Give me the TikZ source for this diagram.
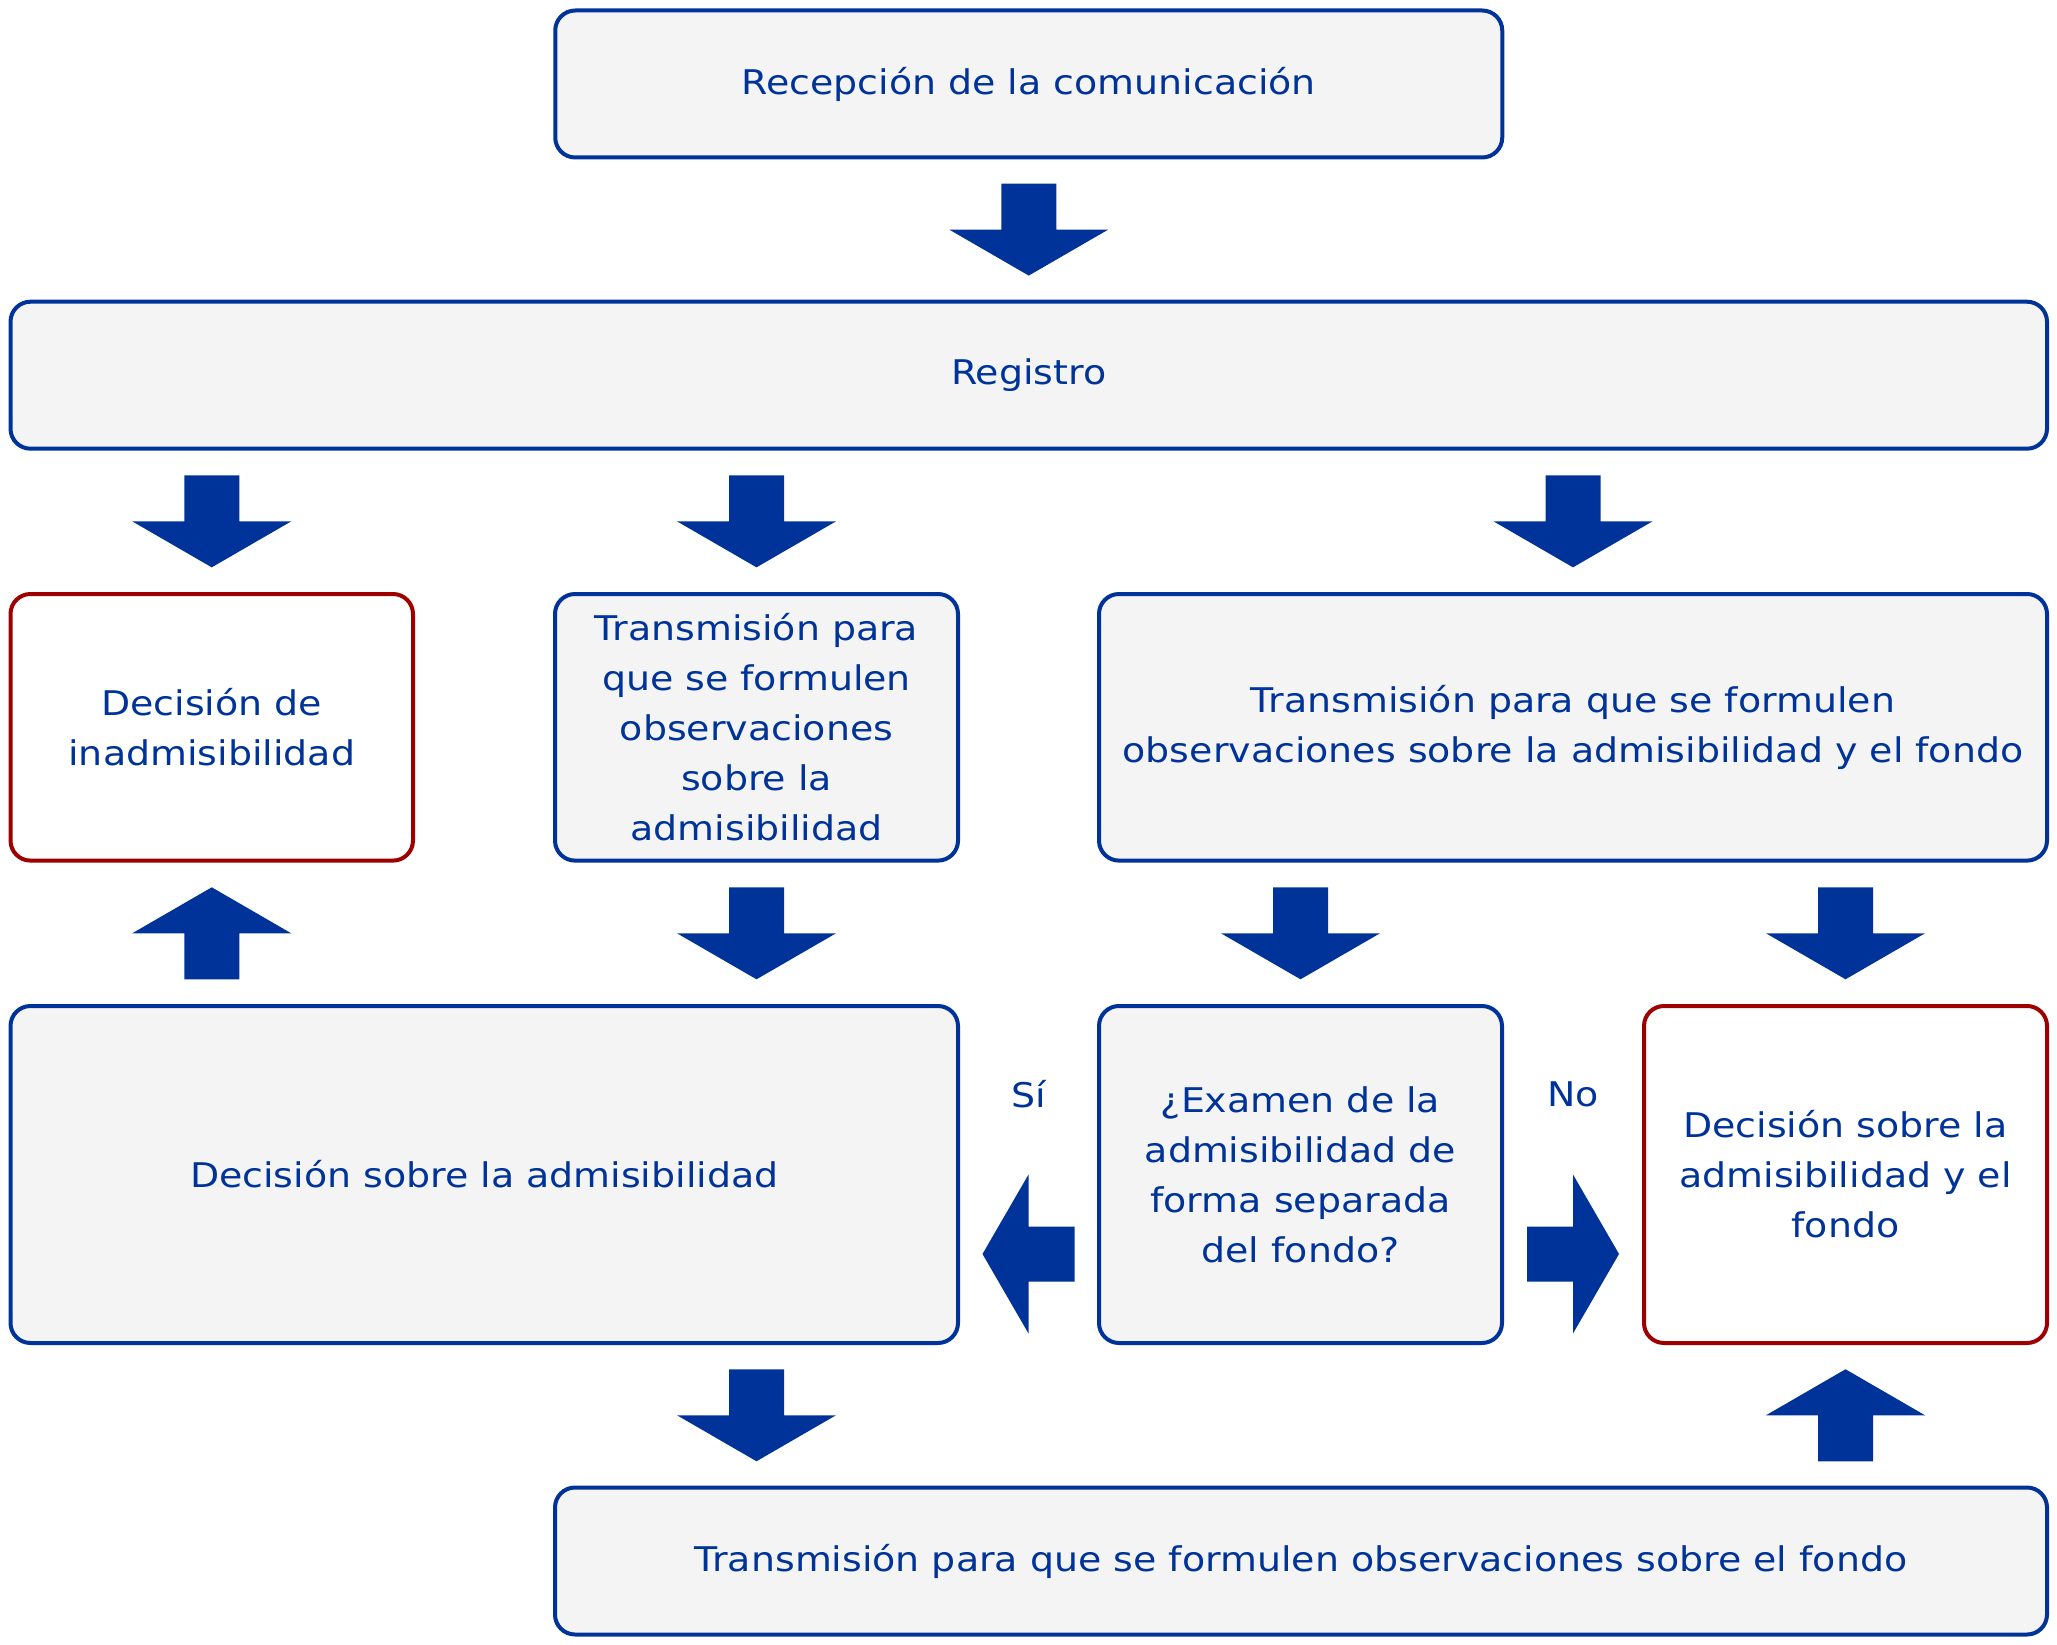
\documentclass[tikz,border=0pt]{standalone}
\usepackage{fontspec}
\setmainfont{DejaVu Sans}[FakeStretch=1.115]
\usetikzlibrary{calc}
\definecolor{cblue}{HTML}{003399}
\definecolor{cred}{HTML}{9E0000}
\definecolor{cgray}{HTML}{F4F4F4}
\tikzset{
  box/.style={draw=cblue, fill=cgray, rounded corners=20pt, line width=4pt,
    text=cblue, align=center, inner sep=0pt,
    font=\fontsize{34}{50}\selectfont},
  redbox/.style={box, draw=cred, fill=white},
  lbl/.style={text=cblue, inner sep=0pt, font=\fontsize{34}{50}\selectfont},
  blockarrow/.pic={\fill[cblue] (-27.5,-46) -- (-27.5,0) -- (-79.5,0) -- (0,46) -- (79.5,0) -- (27.5,0) -- (27.5,-46) -- cycle;}
}
\begin{document}
\begin{tikzpicture}[x=1pt,y=-1pt]
\useasboundingbox (0,0) rectangle (2057,1645);
\node[box, minimum width=947pt, minimum height=147pt] (rec) at (1028.75,84) {Recepción de la comunicación};
\node[box, minimum width=2036.5pt, minimum height=147pt] (reg) at (1028.75,375.2) {Registro};
\node[redbox, minimum width=402.5pt, minimum height=266.6pt] (inad) at (211.75,727.3) {Decisión de\\inadmisibilidad};
\node[box, minimum width=403pt, minimum height=266.6pt] (tadm) at (756.5,727.3) {Transmisión para\\que se formulen\\observaciones\\sobre la\\admisibilidad};
\node[box, minimum width=948pt, minimum height=266.6pt] (tboth) at (1573,727.3) {Transmisión para que se formulen\\observaciones sobre la admisibilidad y el fondo};
\node[box, minimum width=947.5pt, minimum height=337pt] (dadm) at (484.25,1174.5) {Decisión sobre la admisibilidad};
\node[box, minimum width=403pt, minimum height=337pt] (exam) at (1300.5,1174.5) {¿Examen de la\\admisibilidad de\\forma separada\\del fondo?};
\node[redbox, minimum width=403pt, minimum height=337pt] (dfondo) at (1845.5,1174.5) {Decisión sobre la\\admisibilidad y el\\fondo};
\node[box, minimum width=1492pt, minimum height=147pt] (tfondo) at (1301,1561) {Transmisión para que se formulen observaciones sobre el fondo};
\node[lbl] (si) at (1028.5,1094) {Sí};
\node[lbl] (no) at (1573,1094) {No};
% arrows
\pic at ($(rec.south)!0.5!(reg.north)$) {blockarrow};
\pic at ($(inad.north)!0.5!(inad.north|-reg.south)$) {blockarrow};
\pic at ($(tadm.north)!0.5!(tadm.north|-reg.south)$) {blockarrow};
\pic at ($(tboth.north)!0.5!(tboth.north|-reg.south)$) {blockarrow};
\pic[rotate=180] at ($(inad.south)!0.5!(inad.south|-dadm.north)$) {blockarrow};
\pic at ($(tadm.south)!0.5!(tadm.south|-dadm.north)$) {blockarrow};
\pic at ($(exam.north|-tboth.south)!0.5!(exam.north)$) {blockarrow};
\pic at ($(dfondo.north|-tboth.south)!0.5!(dfondo.north)$) {blockarrow};
\pic at ($(tadm.south|-dadm.south)!0.5!(tadm.south|-tfondo.north)$) {blockarrow};
\pic[rotate=180] at ($(dfondo.south)!0.5!(dfondo.south|-tfondo.north)$) {blockarrow};
\pic[rotate=-90] at ($(dadm.east)!0.5!(exam.west)+(0,79.5)$) {blockarrow};
\pic[rotate=90] at ($(exam.east)!0.5!(dfondo.west)+(0,79.5)$) {blockarrow};
\end{tikzpicture}
\end{document}
